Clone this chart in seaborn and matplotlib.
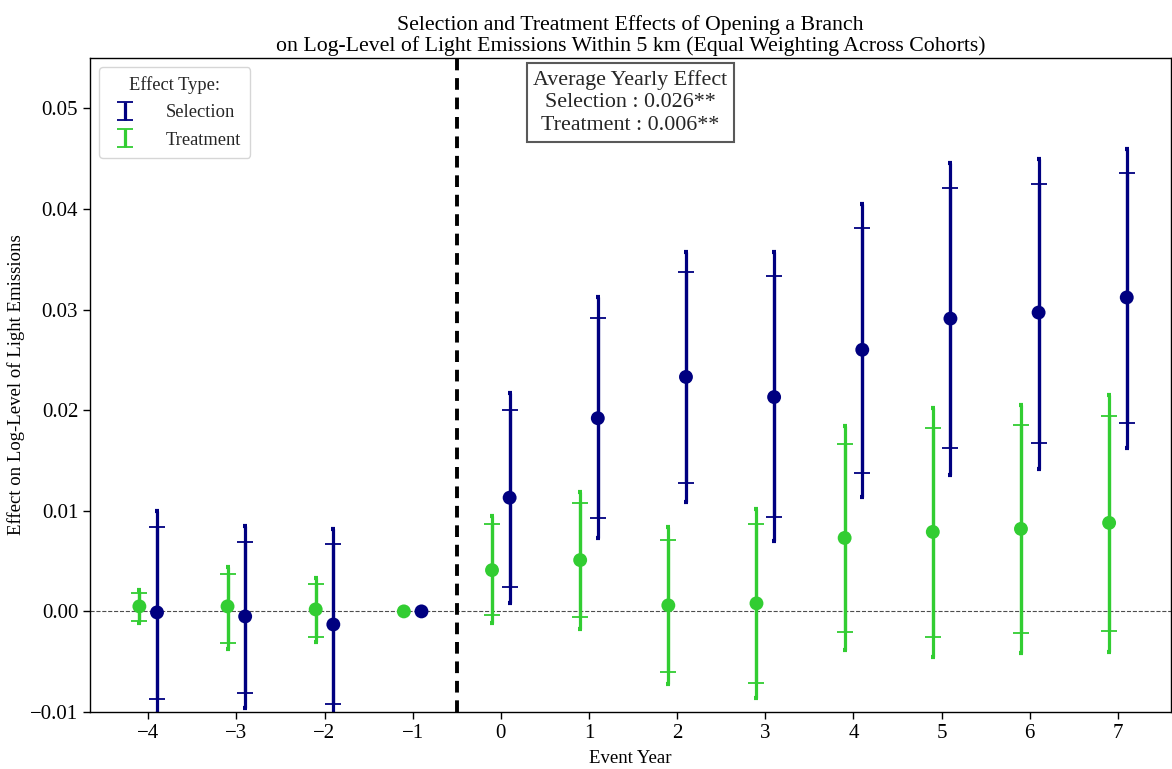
import matplotlib
matplotlib.use("Agg")
import matplotlib.pyplot as plt
import numpy as np
import pandas as pd
import seaborn as sns

sns.set_theme(style="ticks")
plt.rcParams["font.family"] = ["Liberation Serif", "DejaVu Serif"]
plt.rcParams["mathtext.fontset"] = "stix"

# event years and estimates
years = [-4, -3, -2, -1, 0, 1, 2, 3, 4, 5, 6, 7]

sel_est = [-0.0001, -0.0005, -0.0013, 0.0, 0.0113, 0.0192, 0.0233, 0.0213, 0.0260, 0.0291, 0.0297, 0.0312]
sel_lo95 = [-0.0102, -0.0096, -0.0108, 0.0, 0.0008, 0.0073, 0.0109, 0.0070, 0.0114, 0.0136, 0.0142, 0.0162]
sel_hi95 = [0.0100, 0.0085, 0.0082, 0.0, 0.0217, 0.0312, 0.0357, 0.0357, 0.0405, 0.0446, 0.0450, 0.0460]
sel_lo90 = [-0.0087, -0.0081, -0.0092, 0.0, 0.0024, 0.0093, 0.0128, 0.0094, 0.0138, 0.0162, 0.0167, 0.0187]
sel_hi90 = [0.0084, 0.0069, 0.0067, 0.0, 0.0200, 0.0292, 0.0337, 0.0333, 0.0381, 0.0421, 0.0425, 0.0436]

trt_est = [0.0005, 0.0005, 0.0002, 0.0, 0.0041, 0.0051, 0.0006, 0.0008, 0.0073, 0.0079, 0.0082, 0.0088]
trt_lo95 = [-0.0012, -0.0037, -0.0030, 0.0, -0.0012, -0.0017, -0.0072, -0.0086, -0.0038, -0.0045, -0.0041, -0.0040]
trt_hi95 = [0.0021, 0.0044, 0.0033, 0.0, 0.0095, 0.0119, 0.0084, 0.0102, 0.0184, 0.0202, 0.0205, 0.0215]
trt_lo90 = [-0.0010, -0.0031, -0.0025, 0.0, -0.0004, -0.0006, -0.0060, -0.0071, -0.0020, -0.0025, -0.0021, -0.0019]
trt_hi90 = [0.0018, 0.0037, 0.0027, 0.0, 0.0087, 0.0108, 0.0071, 0.0087, 0.0166, 0.0182, 0.0185, 0.0194]

avg_text = "Average Yearly Effect\nSelection : 0.026**\nTreatment : 0.006**"

series = [
    ("Selection", "#000080", 0.1, sel_est, sel_lo95, sel_hi95, sel_lo90, sel_hi90),
    ("Treatment", "#32CD32", -0.1, trt_est, trt_lo95, trt_hi95, trt_lo90, trt_hi90),
]

rows = []
for name, color, shift, est, lo95, hi95, lo90, hi90 in series:
    for i, yr in enumerate(years):
        rows.append([name, yr, yr + shift, est[i], lo95[i], hi95[i], lo90[i], hi90[i]])
df = pd.DataFrame(rows, columns=["type", "year", "xpos", "est", "lo95", "hi95", "lo90", "hi90"])

fig, ax = plt.subplots(figsize=(11.72, 7.69), dpi=100)
fig.subplots_adjust(left=0.0768, right=0.999, top=0.9246, bottom=0.0741)

ax.axhline(0, color="0.3", lw=0.8, ls="--", zorder=1)
ax.axvline(-0.5, color="black", lw=2.8, ls=(0, (3, 2)), zorder=1)

palette = {}
handles = []
for name, color, *_ in series:
    palette[name] = color
    d = df[(df["type"] == name) & (df["hi95"] > df["lo95"])]
    # 95% interval: thick line, tiny caps
    ax.errorbar(d["xpos"], d["est"], yerr=[d["est"] - d["lo95"], d["hi95"] - d["est"]],
                fmt="none", ecolor=color, elinewidth=2.3, capsize=1.2, capthick=3, zorder=2)
    # 90% interval: wider thin caps
    h = ax.errorbar(d["xpos"], d["est"], yerr=[d["est"] - d["lo90"], d["hi90"] - d["est"]],
                    fmt="none", ecolor=color, elinewidth=2.3, capsize=5.5, capthick=1.3,
                    zorder=2, label=name)
    handles.append(h)

sns.scatterplot(data=df, x="xpos", y="est", hue="type", palette=palette, s=100,
                edgecolor="none", legend=False, ax=ax, zorder=3)

ax.set_xlim(-4.66, 7.6)
ax.set_ylim(-0.01, 0.055)
ax.set_xticks(years)
ax.set_yticks([-0.01, 0.0, 0.01, 0.02, 0.03, 0.04, 0.05])
ax.set_yticklabels(["\u22120.01", "0.00", "0.01", "0.02", "0.03", "0.04", "0.05"])
ax.set_xticklabels([f"\u2212{abs(y)}" if y < 0 else str(y) for y in years])
ax.tick_params(labelsize=15, length=5, width=1, color="black", labelcolor="black")
for sp in ax.spines.values():
    sp.set_color("black")
    sp.set_linewidth(1)

ax.set_xlabel("Event Year", fontsize=13.5, color="black", labelpad=5)
ax.set_ylabel("Effect on Log-Level of Light Emissions", fontsize=13.5, color="black")
ax.set_title("Selection and Treatment Effects of Opening a Branch\n"
             "on Log-Level of Light Emissions Within 5 km (Equal Weighting Across Cohorts)",
             fontsize=15.7, color="black", pad=5, linespacing=1.1)

ax.legend(handles=handles, labels=[s[0] for s in series], title="Effect Type:",
          loc="upper left", fontsize=13.3, title_fontsize=13.3, frameon=True,
          edgecolor="0.8", handlelength=1.8, handletextpad=1.3, borderpad=0.5,
          labelspacing=0.55, borderaxespad=0.5)

ax.text(0.5, 0.982, avg_text, transform=ax.transAxes, ha="center", va="top",
        fontsize=15.8, linespacing=1.27,
        bbox=dict(boxstyle="square,pad=0.3", fc="white", ec="0.35", lw=1.5))

fig.savefig("out.png", dpi=100)
